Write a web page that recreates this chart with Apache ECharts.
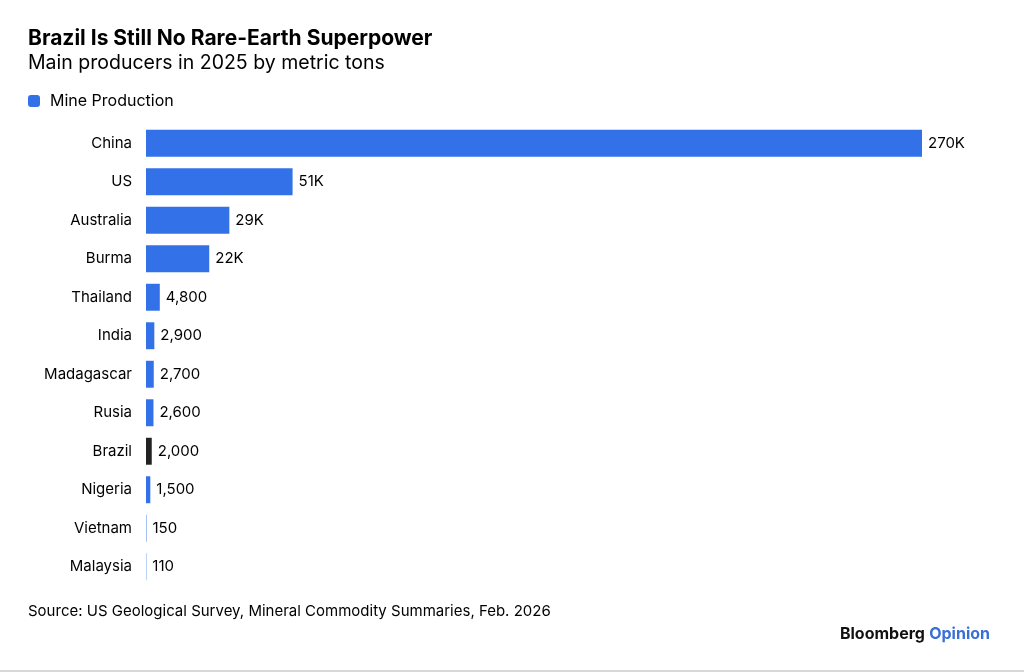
<!DOCTYPE html>
<html>
<head>
<meta charset="utf-8">
<script src="https://cdn.jsdelivr.net/npm/echarts@6/dist/echarts.min.js"></script>
<style>
html,body{margin:0;padding:0;background:#fff;}
#chart{width:1024px;height:672px;}
</style>
</head>
<body>
<div id="chart"></div>
<script>
// data
var countries = ['China','US','Australia','Burma','Thailand','India','Madagascar','Rusia','Brazil','Nigeria','Vietnam','Malaysia'];
var production = [270000,51000,29000,22000,4800,2900,2700,2600,2000,1500,150,110];
var valueLabels = ['270K','51K','29K','22K','4,800','2,900','2,700','2,600','2,000','1,500','150','110'];
var highlight = 'Brazil';

var BLUE = '#3371e9';
var DARK = '#222222';
var FONT = 'Inter, "Noto Sans", sans-serif';

var barData = [];
for (var i = 0; i < countries.length; i++) {
  barData.push({
    value: production[i],
    itemStyle: { color: countries[i] === highlight ? DARK : BLUE }
  });
}

var myChart = echarts.init(document.getElementById('chart'));
var option = {
  backgroundColor: '#fff',
  animation: false,
  textStyle: { fontFamily: FONT },
  title: [
    { text: 'Brazil Is Still No Rare-Earth Superpower', left: 28, top: 28, padding: 0,
      textStyle: { fontSize: 21, fontWeight: 'bold', color: '#000', fontFamily: FONT } },
    { text: 'Main producers in 2025 by metric tons', left: 28, top: 53, padding: 0,
      textStyle: { fontSize: 19.5, fontWeight: 'normal', color: '#000', fontFamily: FONT } },
    { text: 'Source: US Geological Survey, Mineral Commodity Summaries, Feb. 2026', left: 28, top: 604, padding: 0,
      textStyle: { fontSize: 15, fontWeight: 'normal', color: '#000', fontFamily: FONT } },
    { text: '{a|Bloomberg} {b|Opinion}', right: 34, top: 625, padding: 0,
      textStyle: { rich: {
        a: { fontSize: 16, fontWeight: 'bold', color: '#111', fontFamily: FONT },
        b: { fontSize: 16, fontWeight: 'bold', color: '#3a6fd8', fontFamily: FONT }
      } } }
  ],
  legend: {
    left: 28, top: 93, padding: 0, icon: 'roundRect', itemWidth: 12, itemHeight: 12, itemGap: 10,
    textStyle: { fontSize: 16, color: '#000', fontFamily: FONT, padding: [0, 0, 0, 5] },
    data: [{ name: 'Mine Production', itemStyle: { color: BLUE } }]
  },
  grid: { left: 146, right: 102, top: 124, bottom: 86, containLabel: false },
  xAxis: {
    type: 'value', min: 0, max: 270000, show: false
  },
  yAxis: {
    type: 'category', inverse: true, data: countries,
    axisLine: { show: false }, axisTick: { show: false },
    axisLabel: { margin: 14, fontSize: 15, color: '#000', fontFamily: FONT }
  },
  series: [{
    name: 'Mine Production', type: 'bar', data: barData, barWidth: '70%',
    itemStyle: { color: BLUE },
    label: {
      show: true, position: 'right', distance: 6, fontSize: 15, color: '#000', fontFamily: FONT,
      formatter: function (p) { return valueLabels[p.dataIndex]; }
    }
  }],
  graphic: [{
    type: 'rect', left: 0, bottom: 0,
    shape: { width: 1024, height: 2 },
    style: { fill: '#d8d8d8' }
  }]
};
myChart.setOption(option);
window.addEventListener('resize', function () { myChart.resize(); });
</script>
</body>
</html>
